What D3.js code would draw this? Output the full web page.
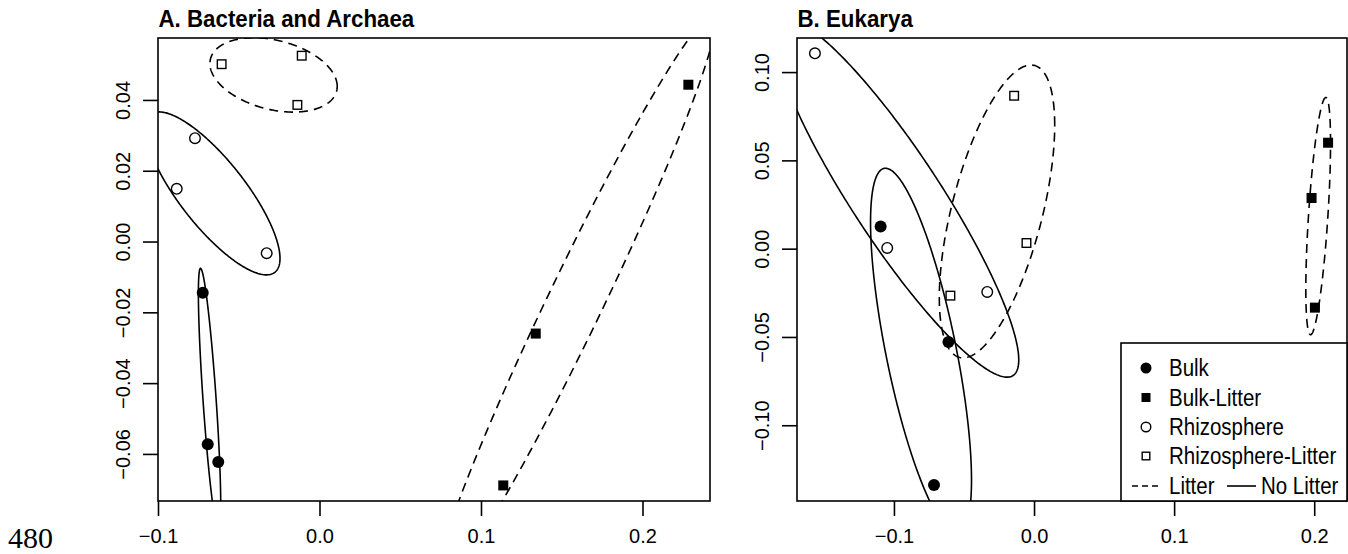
<!DOCTYPE html>
<html>
<head>
<meta charset="utf-8">
<script src="https://cdn.jsdelivr.net/npm/d3@7"></script>
<style>
  body { margin: 0; background: #fff; }
  text { font-family: "Liberation Sans", Arial, sans-serif; fill: #000; }
</style>
</head>
<body>
<div id="chart"></div>
<script>
// groups, legend order
var groups = ["Bulk", "Bulk-Litter", "Rhizosphere", "Rhizosphere-Litter"];
var groupLitter = [false, true, false, true];

// A. Bacteria and Archaea  (x, y) per sample
var bactBulk = [[-0.0723, -0.0145], [-0.0692, -0.0573], [-0.0627, -0.0623]];
var bactBulkLitter = [[0.2284, 0.0443], [0.1339, -0.0260], [0.1138, -0.0689]];
var bactRhizo = [[-0.0771, 0.0292], [-0.0884, 0.0149], [-0.0327, -0.0033]];
var bactRhizoLitter = [[-0.0606, 0.0501], [-0.0110, 0.0525], [-0.0137, 0.0386]];

// B. Eukarya
var eukBulk = [[-0.1095, 0.0125], [-0.0611, -0.0528], [-0.0714, -0.1338]];
var eukBulkLitter = [[0.2099, 0.0600], [0.1981, 0.0287], [0.2005, -0.0334]];
var eukRhizo = [[-0.1564, 0.1106], [-0.1048, 0.0004], [-0.0334, -0.0245]];
var eukRhizoLitter = [[-0.0142, 0.0866], [-0.0054, 0.0032], [-0.0597, -0.0266]];

// axis limits and ticks
var bactXLim = [-0.1, 0.2418], bactYLim = [-0.0733, 0.0575];
var eukXLim = [-0.1692, 0.2234], eukYLim = [-0.1429, 0.1193];
var bactXTicks = [-0.1, 0.0, 0.1, 0.2];
var bactYTicks = [-0.06, -0.04, -0.02, 0.00, 0.02, 0.04];
var eukXTicks = [-0.1, 0.0, 0.1, 0.2];
var eukYTicks = [-0.10, -0.05, 0.00, 0.05, 0.10];

var W = 1348, H = 554;
var LW = 1.6;
var DASH = "9,6";
var CHI2_95 = 5.991465; // qchisq(0.95, 2), standard-error ellipses

var svg = d3.select("#chart").append("svg")
    .attr("width", W)
    .attr("height", H);

// "480" label bottom-left
svg.append("text")
    .attr("x", 8)
    .attr("y", 548)
    .style("font-family", "'Liberation Serif', 'Times New Roman', serif")
    .style("font-size", "30px")
    .text("480");

//ellipse outline from the sample covariance (centroid +- se, 95%)
function seEllipse(pts) {
    var n = pts.length;
    var mx = d3.mean(pts, function (d) { return d[0]; });
    var my = d3.mean(pts, function (d) { return d[1]; });
    var a = 0, b = 0, c = 0;
    pts.forEach(function (d) {
        a += (d[0] - mx) * (d[0] - mx);
        b += (d[0] - mx) * (d[1] - my);
        c += (d[1] - my) * (d[1] - my);
    });
    a /= (n - 1); b /= (n - 1); c /= (n - 1);
    var l11 = Math.sqrt(a), l21 = b / l11, l22 = Math.sqrt(Math.max(c - l21 * l21, 0));
    var t = Math.sqrt(CHI2_95 / n);
    return d3.range(0, 361).map(function (i) {
        var th = i * Math.PI / 180;
        return [mx + t * l11 * Math.cos(th), my + t * (l21 * Math.cos(th) + l22 * Math.sin(th))];
    });
}

function drawSymbol(g, kind, x, y, big) {
    var r = big ? 6 : 5.5;
    var s = big ? 10 : 9;
    if (kind === 0) {
        g.append("circle").attr("cx", x).attr("cy", y).attr("r", r).style("fill", "#000");
    } else if (kind === 1) {
        g.append("rect").attr("x", x - s / 2).attr("y", y - s / 2).attr("width", s).attr("height", s)
            .style("fill", "#000");
    } else if (kind === 2) {
        g.append("circle").attr("cx", x).attr("cy", y).attr("r", r - 0.7)
            .style("fill", "none").style("stroke", "#000").style("stroke-width", 1.4);
    } else {
        g.append("rect").attr("x", x - s / 2 + 0.7).attr("y", y - s / 2 + 0.7)
            .attr("width", s - 1.4).attr("height", s - 1.4)
            .style("fill", "none").style("stroke", "#000").style("stroke-width", 1.4);
    }
}

function drawPanel(cfg) {
    var x = d3.scaleLinear().domain(cfg.xLim).range([cfg.left, cfg.right]);
    var y = d3.scaleLinear().domain(cfg.yLim).range([cfg.bottom, cfg.top]);
    var g = svg.append("g");

    var clipId = cfg.id + "_clip";
    svg.append("clipPath").attr("id", clipId)
        .append("rect")
        .attr("x", cfg.left).attr("y", cfg.top)
        .attr("width", cfg.right - cfg.left).attr("height", cfg.bottom - cfg.top);

    var plot = g.append("g").attr("clip-path", "url(#" + clipId + ")");
    var line = d3.line()
        .x(function (d) { return x(d[0]); })
        .y(function (d) { return y(d[1]); });

    cfg.data.forEach(function (pts, i) {
        plot.append("path")
            .attr("d", line(seEllipse(pts)) + "Z")
            .style("fill", "none")
            .style("stroke", "#000")
            .style("stroke-width", LW)
            .style("stroke-dasharray", groupLitter[i] ? DASH : null);
    });
    cfg.data.forEach(function (pts, i) {
        pts.forEach(function (p) {
            drawSymbol(plot, i, x(p[0]), y(p[1]), true);
        });
    });

    //box
    g.append("rect")
        .attr("x", cfg.left).attr("y", cfg.top)
        .attr("width", cfg.right - cfg.left).attr("height", cfg.bottom - cfg.top)
        .style("fill", "none").style("stroke", "#000").style("stroke-width", LW);

    //x axis
    var xa = g.append("g")
        .attr("transform", "translate(0," + cfg.bottom + ")")
        .call(d3.axisBottom(x).tickValues(cfg.xTicks).tickSize(15).tickPadding(0).tickFormat(d3.format(".1f")));
    xa.select(".domain").remove();
    xa.selectAll("line").style("stroke-width", LW);
    xa.selectAll("text")
        .attr("y", 42)
        .attr("dy", null)
        .style("font-size", "20px");

    //y axis, labels parallel to the axis
    var ya = g.append("g")
        .attr("transform", "translate(" + cfg.left + ",0)")
        .call(d3.axisLeft(y).tickValues(cfg.yTicks).tickSize(15).tickFormat(d3.format(".2f")));
    ya.select(".domain").remove();
    ya.selectAll("line").style("stroke-width", LW);
    ya.selectAll("text")
        .attr("x", null).attr("dy", null)
        .attr("transform", "translate(-28,0) rotate(-90)")
        .style("text-anchor", "middle")
        .style("font-size", "20px");

    //title
    g.append("text")
        .attr("transform", "translate(" + (cfg.left + 0.5) + ",27) scale(0.93,1)")
        .style("font-weight", "bold")
        .style("font-size", "24px")
        .text(cfg.title);

    return g;
}

drawPanel({
    id: "bact", title: "A. Bacteria and Archaea",
    left: 158, right: 710, top: 38, bottom: 501,
    xLim: bactXLim, yLim: bactYLim, xTicks: bactXTicks, yTicks: bactYTicks,
    data: [bactBulk, bactBulkLitter, bactRhizo, bactRhizoLitter]
});

var eukG = drawPanel({
    id: "euk", title: "B. Eukarya",
    left: 797, right: 1347, top: 38, bottom: 501,
    xLim: eukXLim, yLim: eukYLim, xTicks: eukXTicks, yTicks: eukYTicks,
    data: [eukBulk, eukBulkLitter, eukRhizo, eukRhizoLitter]
});

//legend (bottom right of panel B)
var lg = eukG.append("g");
lg.append("rect")
    .attr("x", 1121).attr("y", 343)
    .attr("width", 1347 - 1121).attr("height", 501 - 343)
    .style("fill", "#fff").style("stroke", "#000").style("stroke-width", LW);

var rowY = [368, 397.5, 427, 456, 486];
groups.forEach(function (name, i) {
    drawSymbol(lg, i, 1146, rowY[i], false);
    lg.append("text")
        .attr("transform", "translate(1169," + (rowY[i] + 8) + ") scale(0.89,1)")
        .style("font-size", "23px")
        .text(name);
});
lg.append("line")
    .attr("x1", 1132).attr("x2", 1162).attr("y1", rowY[4]).attr("y2", rowY[4])
    .style("stroke", "#000").style("stroke-width", LW).style("stroke-dasharray", "6,4");
lg.append("text")
    .attr("transform", "translate(1169," + (rowY[4] + 8) + ") scale(0.89,1)")
    .style("font-size", "23px")
    .text("Litter");
lg.append("line")
    .attr("x1", 1227).attr("x2", 1256).attr("y1", rowY[4]).attr("y2", rowY[4])
    .style("stroke", "#000").style("stroke-width", LW);
lg.append("text")
    .attr("transform", "translate(1261," + (rowY[4] + 8) + ") scale(0.89,1)")
    .style("font-size", "23px")
    .text("No Litter");
</script>
</body>
</html>
